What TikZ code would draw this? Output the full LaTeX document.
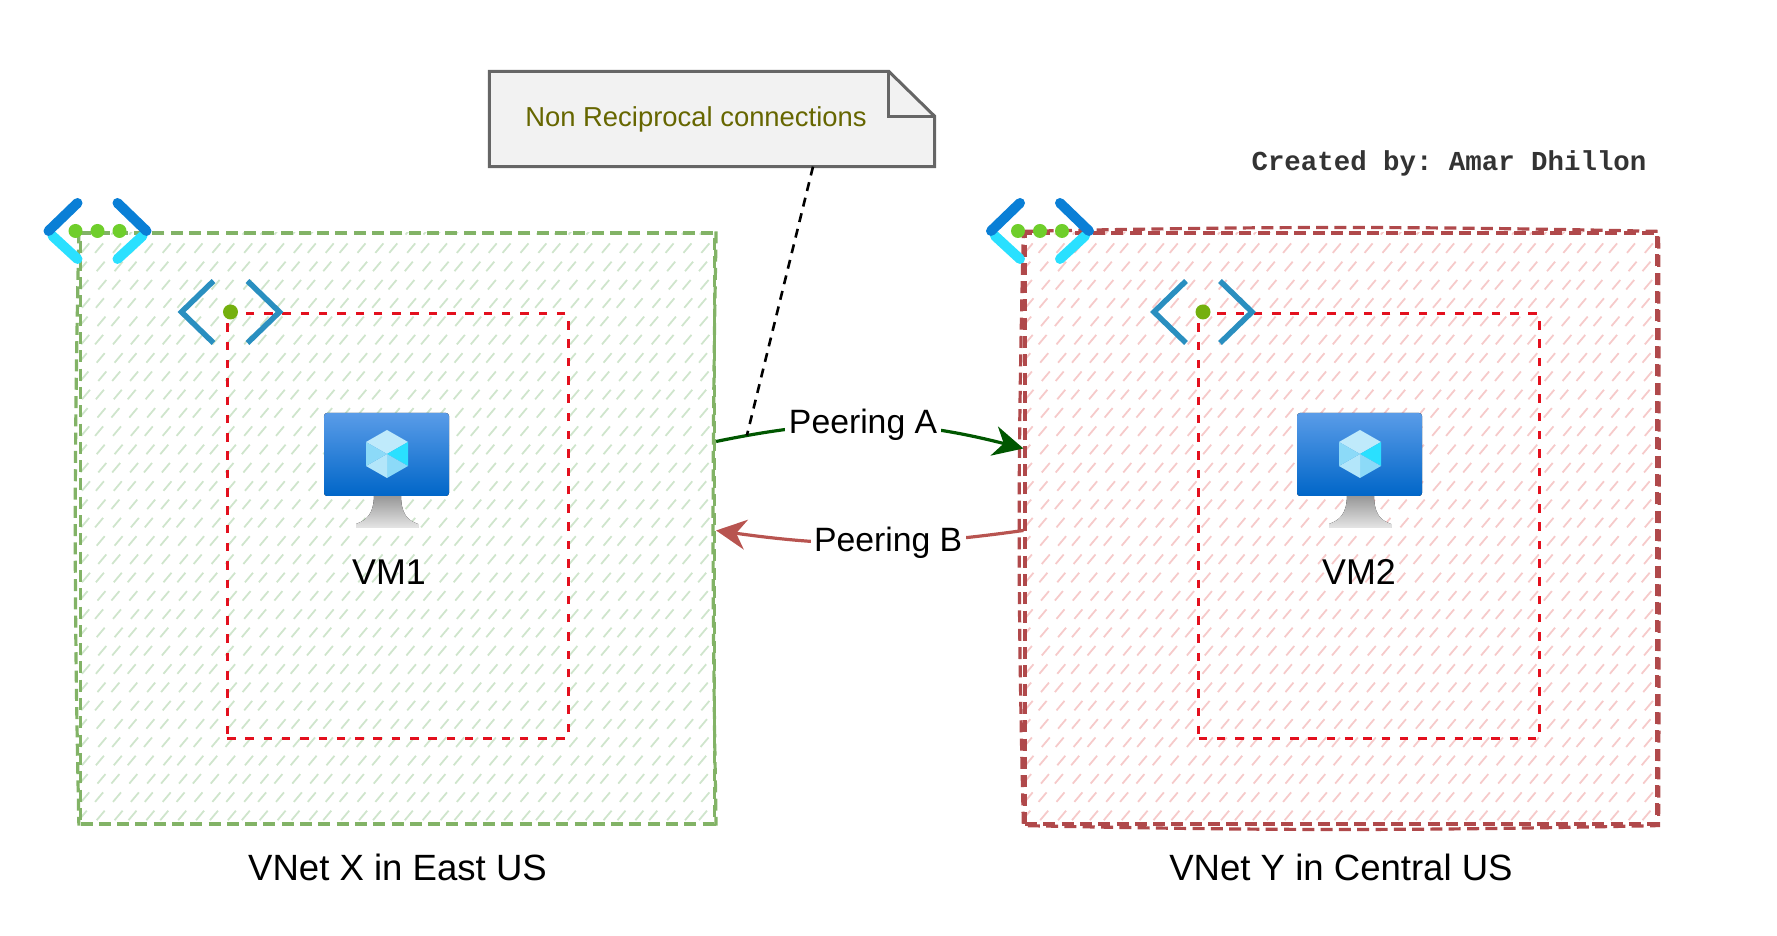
\documentclass[tikz,border=0pt]{standalone}
\usepackage{fontspec}
\setmainfont{Liberation Sans}
\setmonofont{Liberation Mono}
\usetikzlibrary{positioning, calc, arrows.meta}

\definecolor{vnetgreen}{HTML}{82B366}
\definecolor{vnetred}{HTML}{B0494B}
\definecolor{hatchgreen}{HTML}{CFE5CC}
\definecolor{hatchred}{HTML}{F6CACA}
\definecolor{subnetred}{HTML}{E3101E}
\definecolor{peergreen}{HTML}{005700}
\definecolor{peerred}{HTML}{B85450}
\definecolor{notegray}{HTML}{666666}
\definecolor{notefill}{HTML}{F2F2F2}
\definecolor{noteolive}{HTML}{666600}
\definecolor{iconblue}{HTML}{0A7FD6}
\definecolor{iconcyan}{HTML}{2AE0FF}
\definecolor{icondot}{HTML}{6FCE2B}
\definecolor{subnetblue}{HTML}{2A8FC0}
\definecolor{subnetdot}{HTML}{74B00E}
\definecolor{screentop}{HTML}{5A9CE8}
\definecolor{screenbottom}{HTML}{0066C8}

\tikzset{
    vnetedge/.style={line width=0.032cm, dash pattern=on 0.12cm off 0.063cm},
    hatchbox/.style={path picture={
        \foreach \c in {0,...,40}
            \foreach \r in {0,...,33} {
                \pgfmathsetmacro{\jit}{mod(\c*7+\r*13,5)*0.008}
                \draw[#1, solid, line width=0.018cm] (-3.35+\c*0.163+\jit,-3.1+\r*0.183) -- ++(0.08,0.095);
            }
    }},
    vnetbox/.style={minimum width=#1, minimum height=5.91cm, inner sep=0, vnetedge},
    subnetbox/.style={draw=subnetred, line width=0.03cm, dash pattern=on 0.085cm off 0.098cm,
        minimum width=3.41cm, minimum height=4.25cm, inner sep=0},
    peerline/.style={-{Stealth[length=0.3cm, width=0.3cm]}, line width=0.032cm},
    peerlabel/.style={fill=white, inner sep=1pt, font=\fontsize{9.6}{11}\selectfont},
    biglabel/.style={font=\fontsize{10.4}{12}\selectfont},
    vnet icon/.pic={
        \draw[iconcyan, line width=0.1cm, line cap=round] (-0.45,-0.05) -- (-0.2,-0.28);
        \draw[iconcyan, line width=0.1cm, line cap=round] (0.45,-0.05) -- (0.2,-0.28);
        \draw[iconblue, line width=0.1cm, line cap=round] (-0.49,0) -- (-0.2,0.28);
        \draw[iconblue, line width=0.1cm, line cap=round] (0.49,0) -- (0.2,0.28);
        \foreach \x in {-0.22,0,0.22}
            \fill[icondot] (\x,0) circle (0.07);
    },
    subnet icon/.pic={
        \draw[subnetblue, line width=0.055cm] (-0.17,0.31) -- (-0.49,0) -- (-0.17,-0.31);
        \draw[subnetblue, line width=0.055cm] (0.17,0.31) -- (0.49,0) -- (0.17,-0.31);
        \fill[subnetdot] (0,0) circle (0.075);
    },
    vm icon/.pic={
        \fill[top color=gray!85, bottom color=gray!20] (-0.13,-0.4) -- (0.14,-0.4) .. controls (0.14,-0.6) and (0.2,-0.66) .. (0.31,-0.7) -- (0.31,-0.74) -- (-0.31,-0.74) -- (-0.31,-0.7) .. controls (-0.2,-0.66) and (-0.13,-0.6) .. cycle;
        \fill[rounded corners=0.03cm, top color=screentop, bottom color=screenbottom] (-0.63,0.41) rectangle (0.62,-0.42);
        % cube faces
        \fill[cyan!25!white] (0,0.24) -- (0.21,0.12) -- (0,0) -- (-0.21,0.12) -- cycle;
        \fill[iconcyan] (0.21,0.12) -- (0.21,-0.12) -- (0,0) -- cycle;
        \fill[cyan!45!white] (0.21,-0.12) -- (0,-0.24) -- (0,0) -- cycle;
        \fill[cyan!30!white] (0,-0.24) -- (-0.21,-0.12) -- (0,0) -- cycle;
        \fill[cyan!45!white] (-0.21,-0.12) -- (-0.21,0.12) -- (0,0) -- cycle;
    }
}

\begin{document}
\begin{tikzpicture}
    \useasboundingbox (0,0) rectangle (17.77,9.36);

    % the two vnets
    \node[vnetbox=6.34cm, draw=vnetgreen, hatchbox=hatchgreen] (vnetx) at (3.975,4.075) {};
    \node[vnetbox=6.32cm, draw=vnetred, hatchbox=hatchred] (vnety) at (13.41,4.075) {};
    \draw[vnetedge, vnetgreen] (vnetx.north west) to[bend right=1.2] (vnetx.south west);
    \draw[vnetedge, vnetgreen] (vnetx.north east) to[bend right=1] (vnetx.south east);
    \draw[vnetedge, vnetred] (vnety.north west) to[bend left=1.2] (vnety.north east)
        to[bend left=0.2] (vnety.south east) to[bend left=1.2] (vnety.south west)
        to[bend left=1.4] (vnety.north west);

    \node[subnetbox] (subnet1) at (3.975,4.095) {};
    \node[subnetbox] (subnet2) at (13.69,4.095) {};

    \node[biglabel, below=0.165cm of vnetx] (vnetxlabel) {VNet X in East US};
    \node[biglabel, below=0.165cm of vnety] (vnetylabel) {VNet Y in Central US};

    % icons
    \pic at (0.975,7.05) {vnet icon};
    \pic at (10.40,7.05) {vnet icon};
    \pic at (2.305,6.24) {subnet icon};
    \pic at (12.03,6.24) {subnet icon};
    \pic at (3.87,4.82) {vm icon};
    \pic at (13.60,4.82) {vm icon};
    \node[font=\fontsize{10.2}{12}\selectfont] (vm1) at (3.89,3.64) {VM1};
    \node[font=\fontsize{10.2}{12}\selectfont] (vm2) at (13.59,3.64) {VM2};

    % note
    \node[minimum width=4.44cm, minimum height=0.94cm, inner sep=0] (note) at (7.12,8.17) {};
    \draw[notegray, line width=0.03cm, fill=notefill] (note.north west) -- ($(note.north east)+(-0.46,0)$) -- ($(note.north east)+(0,-0.45)$) -- (note.south east) -- (note.south west) -- cycle;
    \draw[notegray, line width=0.03cm] ($(note.north east)+(-0.46,0)$) -- ($(note.north east)+(-0.46,-0.45)$) -- ($(note.north east)+(0,-0.45)$);
    \node[text=noteolive, font=\fontsize{7.8}{9}\selectfont, inner sep=0, xshift=-0.16cm] (notetext) at (note.center) {Non Reciprocal connections};

    % peerings
    \draw[peerline, peergreen] ([yshift=0.87cm]vnetx.east) to[bend left=13]
        coordinate[pos=0.09] (peerpt)
        node[peerlabel, text=black, pos=0.475] (peera) {Peering A} ([yshift=0.8cm]vnety.west);
    \draw[peerline, peerred] ([yshift=-0.02cm]vnety.west) to[bend left=8]
        node[peerlabel, text=black, pos=0.435] (peerb) {Peering B} ([yshift=-0.02cm]vnetx.east);
    \draw[black, line width=0.026cm, dash pattern=on 0.09cm off 0.07cm] ([xshift=1.01cm]note.south) -- (peerpt);

    \node[font=\ttfamily\bfseries\fontsize{7.8}{9}\selectfont, text=black!80] (credit) at (14.49,7.73) {Created by: Amar Dhillon};
\end{tikzpicture}
\end{document}
